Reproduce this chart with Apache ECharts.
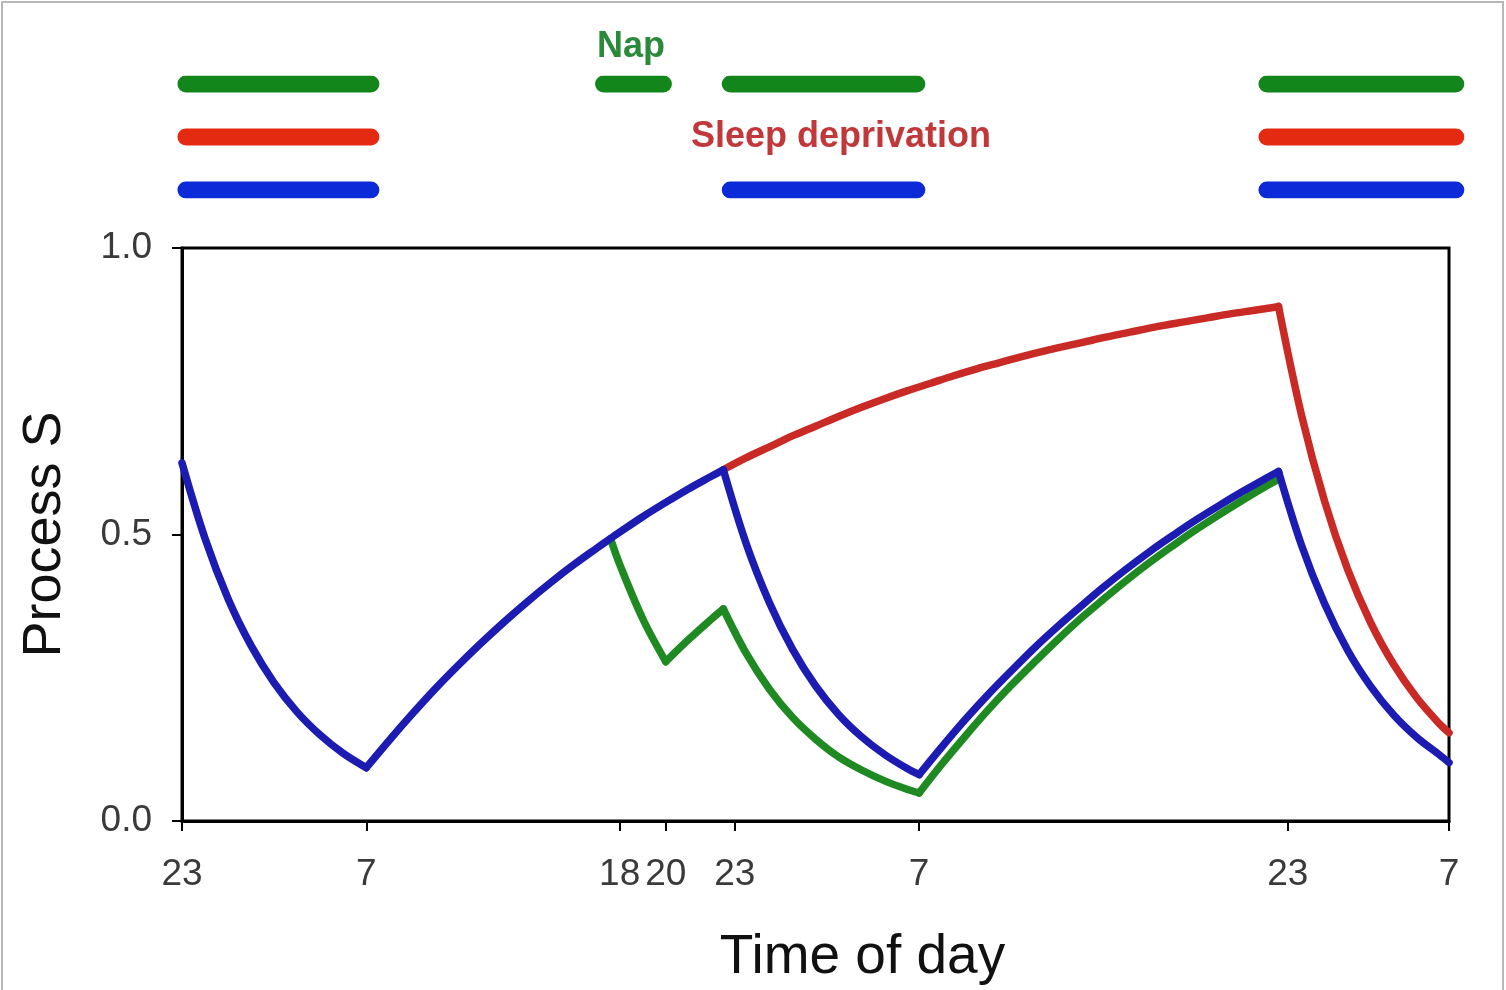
<!DOCTYPE html>
<html>
<head>
<meta charset="utf-8">
<script src="https://cdn.jsdelivr.net/npm/echarts@6/dist/echarts.min.js"></script>
<style>
html,body{margin:0;padding:0;background:#fff;}
#chart{width:1506px;height:990px;}
</style>
</head>
<body>
<div id="chart"></div>
<script>
// x in hours from 23:00 of day 1
const xTickValues = [0, 8, 19, 21, 24, 32, 48, 55];
const xTickLabels = ['23', '7', '18', '20', '23', '7', '23', '7'];

const blueX = [0,1,2,3,4,5,6,7,8, 9,10,11,12,13,14,15,16,17,18,18.6,19,20,21,22,23,23.5,
  24.5,25.5,26.5,27.5,28.5,29.5,30.5,31.5,32,
  33,34,35,36,37,38,39,40,41,42,43,44,45,46,47,47.6,
  48.6,49.6,50.6,51.6,52.6,53.6,54.6,55];
const blueY = [0.625,0.493,0.388,0.306,0.241,0.190,0.150,0.118,0.093,
  0.141,0.187,0.231,0.272,0.311,0.348,0.383,0.416,0.447,0.476,0.493,0.504,0.531,0.556,0.580,0.602,0.613,
  0.483,0.381,0.300,0.236,0.186,0.147,0.116,0.091,0.081,
  0.130,0.177,0.221,0.262,0.302,0.339,0.374,0.408,0.440,0.470,0.498,0.525,0.550,0.574,0.597,0.610,
  0.481,0.379,0.298,0.235,0.185,0.146,0.115,0.102];
const blueKinks = [8, 23.5, 32, 47.6];

const greenX = [18.6,19,20,21, 22,23,23.5,
  24.5,25.5,26.5,27.5,28.5,29.5,30.5,31.5,32,
  33,34,35,36,37,38,39,40,41,42,43,44,45,46,47,47.6];
const greenY = [0.493,0.448,0.353,0.278, 0.317,0.353,0.370,
  0.292,0.230,0.181,0.143,0.112,0.089,0.070,0.055,0.049,
  0.100,0.148,0.194,0.237,0.277,0.316,0.353,0.387,0.420,0.451,0.480,0.508,0.534,0.559,0.583,0.596];
const greenKinks = [21, 23.5, 32];

const redX = [23.5,
  24.5,25.5,26.5,27.5,28.5,29.5,30.5,31.5,32.5,33.5,34.5,35.5,36.5,37.5,38.5,39.5,40.5,41.5,42.5,43.5,44.5,45.5,46.5,47.5,
  47.6, 48.6,49.6,50.6,51.6,52.6,53.6,54.6,55];
const redY = [0.613,
  0.634,0.653,0.672,0.689,0.706,0.722,0.737,0.751,0.764,0.777,0.789,0.800,0.811,0.821,0.830,0.839,0.848,0.856,0.864,0.871,0.878,0.885,0.891,0.897,
  0.898, 0.708,0.558,0.439,0.346,0.273,0.215,0.169,0.154];
const redKinks = [47.6];

// sleep periods shown as bars above the plot (start, end in hours)
const sleepGreen = [[0.17, 8.2], [18.3, 20.9], [23.8, 31.9], [47.1, 55.3]];
const sleepRed = [[0.17, 8.2], [47.1, 55.3]];
const sleepBlue = [[0.17, 8.2], [23.8, 31.9], [47.1, 55.3]];

const LINE_BLUE = '#1c1cb2', LINE_GREEN = '#1f8a22', LINE_RED = '#c92a26';
const BAR_GREEN = '#12861a', BAR_RED = '#e52a12', BAR_BLUE = '#0c2ad8';

function segments(xs, ys, kinks) {
  const out = [];
  let cur = [];
  xs.forEach((x, i) => {
    cur.push([x, ys[i]]);
    if (kinks.indexOf(x) >= 0 && cur.length > 1) { out.push(cur); cur = [[x, ys[i]]]; }
  });
  if (cur.length > 1) out.push(cur);
  return out;
}

function curveSeries(xs, ys, kinks, color, z, name) {
  return segments(xs, ys, kinks).map(seg => ({
    type: 'line', name: name, data: seg, symbol: 'none', smooth: 0.35, z: z,
    lineStyle: { color: color, width: 7.5, cap: 'round', join: 'round' }
  }));
}

function barSeries(list, row, color) {
  return list.map(seg => ({
    type: 'line', xAxisIndex: 1, yAxisIndex: 1, symbol: 'none', silent: true,
    data: [[seg[0], row], [seg[1], row]],
    lineStyle: { color: color, width: 17, cap: 'round' }
  }));
}

const chart = echarts.init(document.getElementById('chart'), null, { renderer: 'canvas' });
const fontFam = '"Liberation Sans", Arial, sans-serif';

chart.setOption({
  animation: false,
  backgroundColor: '#ffffff',
  grid: [
    { left: 182, right: 57, top: 248, bottom: 169, show: true, borderColor: '#000', borderWidth: 3, backgroundColor: 'transparent' },
    { left: 182, right: 11, top: 84, height: 106, show: false }
  ],
  xAxis: [
    {
      type: 'value', gridIndex: 0, min: 0, max: 55,
      axisLine: { show: true, lineStyle: { color: '#000', width: 3 } },
      axisTick: { show: true, length: 10, inside: false, customValues: xTickValues, lineStyle: { color: '#000', width: 2 } },
      axisLabel: {
        show: true, customValues: xTickValues, margin: 35,
        color: '#3a3a3a', fontSize: 37, fontFamily: fontFam,
        formatter: function (v) { const i = xTickValues.indexOf(v); return i >= 0 ? xTickLabels[i] : ''; }
      },
      splitLine: { show: false },
      name: 'Time of day', nameLocation: 'middle', nameGap: 109,
      nameTextStyle: { color: '#111', fontSize: 55, fontFamily: fontFam, padding: [0, 0, 0, 94] }
    },
    { type: 'value', gridIndex: 1, min: 0, max: 57, show: false }
  ],
  yAxis: [
    {
      type: 'value', gridIndex: 0, min: 0, max: 1, interval: 0.5,
      axisLine: { show: true, lineStyle: { color: '#000', width: 3 } },
      axisTick: { show: true, length: 10, inside: false, lineStyle: { color: '#000', width: 2 } },
      axisLabel: { margin: 30, color: '#3a3a3a', fontSize: 37, fontFamily: fontFam, formatter: v => v.toFixed(1) },
      splitLine: { show: false },
      name: 'Process S', nameLocation: 'middle', nameGap: 110, nameRotate: 90,
      nameTextStyle: { color: '#111', fontSize: 54, fontFamily: fontFam, padding: [0, 0, 0, 0] }
    },
    { type: 'value', gridIndex: 1, min: 0, max: 2, show: false }
  ],
  graphic: [
    { type: 'rect', silent: true, z: -1, shape: { x: 2, y: 2, width: 1501, height: 1010 }, style: { fill: 'none', stroke: '#b8b8b8', lineWidth: 2 } },
    { type: 'text', left: 597, top: 29, style: { text: 'Nap', fill: '#2a8a3a', font: 'bold 36px ' + fontFam } },
    { type: 'text', left: 691, top: 119, style: { text: 'Sleep deprivation', fill: '#c0383a', font: 'bold 36px ' + fontFam } }
  ],
  series: [].concat(
    curveSeries(redX, redY, redKinks, LINE_RED, 3, 'Sleep deprivation'),
    curveSeries(greenX, greenY, greenKinks, LINE_GREEN, 4, 'Nap'),
    curveSeries(blueX, blueY, blueKinks, LINE_BLUE, 5, 'Normal'),
    barSeries(sleepGreen, 2, BAR_GREEN), barSeries(sleepRed, 1, BAR_RED), barSeries(sleepBlue, 0, BAR_BLUE)
  )
});
</script>
</body>
</html>
